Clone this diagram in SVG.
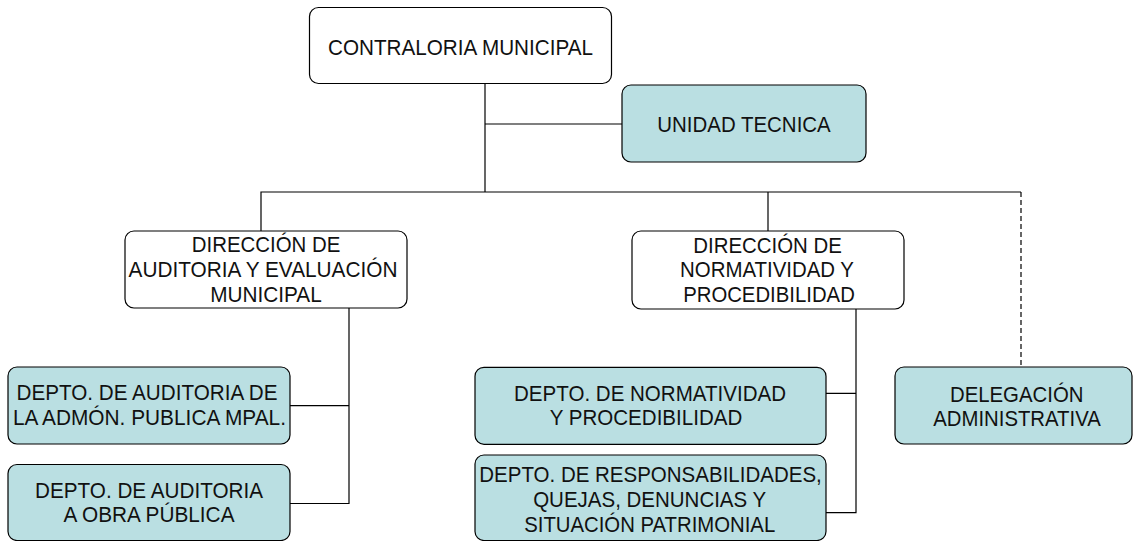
<svg xmlns="http://www.w3.org/2000/svg" width="1133" height="541" viewBox="0 0 1133 541">
<style>
.box{stroke:#000;stroke-width:1.2}
.w{fill:#fff}
.b{fill:#BADFE2}
text{font-family:"Liberation Sans",Arial,sans-serif;font-size:22px;fill:#111;text-anchor:middle}
.c{stroke:#000;stroke-width:1.2;fill:none}
.d{stroke:#000;stroke-width:1.2;fill:none;stroke-dasharray:5 3}
</style>
<rect width="1133" height="541" fill="#fff"/>
<g id="connectors">
<path class="c" d="M485,83 V192"/>
<path class="c" d="M485,124 H622"/>
<path class="c" d="M261,231 V192 H1021"/>
<path class="c" d="M768,192 V231"/>
<path class="d" d="M1021,192 V367"/>
<path class="c" d="M349,308 V503.5 H290 M290,405.7 H349"/>
<path class="c" d="M856,309 V512.7 H826 M826,393.3 H856"/>
</g>
<g id="contraloria">
<rect class="box w" x="309.5" y="7.5" width="302" height="76" rx="9"/>
<text x="460.5" y="55" textLength="265" lengthAdjust="spacingAndGlyphs">CONTRALORIA MUNICIPAL</text>
</g>
<g id="unidad-tecnica">
<rect class="box b" x="622" y="85" width="244" height="77" rx="9"/>
<text x="744" y="131.7" textLength="173.5" lengthAdjust="spacingAndGlyphs">UNIDAD TECNICA</text>
</g>
<g id="dir-auditoria">
<rect class="box w" x="125" y="231" width="282" height="77" rx="9"/>
<text x="266" y="251.7" textLength="148.5" lengthAdjust="spacingAndGlyphs">DIRECCIÓN DE</text>
<text x="263" y="276.7" textLength="269" lengthAdjust="spacingAndGlyphs">AUDITORIA Y EVALUACIÓN</text>
<text x="266" y="301.7" textLength="111.6" lengthAdjust="spacingAndGlyphs">MUNICIPAL</text>
</g>
<g id="dir-normatividad">
<rect class="box w" x="632" y="231" width="272" height="78" rx="9"/>
<text x="767.5" y="252.7" textLength="148.5" lengthAdjust="spacingAndGlyphs">DIRECCIÓN DE</text>
<text x="767" y="277.3" textLength="174" lengthAdjust="spacingAndGlyphs">NORMATIVIDAD Y</text>
<text x="769" y="301.7" textLength="171.7" lengthAdjust="spacingAndGlyphs">PROCEDIBILIDAD</text>
</g>
<g id="depto-auditoria-admon">
<rect class="box b" x="8" y="367" width="282" height="77" rx="9"/>
<text x="147" y="400" textLength="261" lengthAdjust="spacingAndGlyphs">DEPTO. DE AUDITORIA DE</text>
<text x="149.5" y="425" textLength="273" lengthAdjust="spacingAndGlyphs">LA ADMÓN. PUBLICA MPAL.</text>
</g>
<g id="depto-auditoria-obra">
<rect class="box b" x="8" y="464.5" width="282" height="76" rx="9"/>
<text x="149" y="498.3" textLength="228" lengthAdjust="spacingAndGlyphs">DEPTO. DE AUDITORIA</text>
<text x="149" y="522.3" textLength="171" lengthAdjust="spacingAndGlyphs">A OBRA PÚBLICA</text>
</g>
<g id="depto-normatividad">
<rect class="box b" x="475" y="367.3" width="351" height="77" rx="9"/>
<text x="650" y="400.7" textLength="272" lengthAdjust="spacingAndGlyphs">DEPTO. DE NORMATIVIDAD</text>
<text x="646" y="425" textLength="192.5" lengthAdjust="spacingAndGlyphs">Y PROCEDIBILIDAD</text>
</g>
<g id="depto-responsabilidades">
<rect class="box b" x="475" y="455" width="351" height="85.5" rx="9"/>
<text x="650.5" y="481.7" textLength="342.5" lengthAdjust="spacingAndGlyphs">DEPTO. DE RESPONSABILIDADES,</text>
<text x="649.7" y="506.7" textLength="233" lengthAdjust="spacingAndGlyphs">QUEJAS, DENUNCIAS Y</text>
<text x="649.7" y="531.7" textLength="251" lengthAdjust="spacingAndGlyphs">SITUACIÓN PATRIMONIAL</text>
</g>
<g id="delegacion">
<rect class="box b" x="895" y="367" width="237" height="77" rx="9"/>
<text x="1016.7" y="401.7" textLength="133.5" lengthAdjust="spacingAndGlyphs">DELEGACIÓN</text>
<text x="1017" y="425.7" textLength="167.5" lengthAdjust="spacingAndGlyphs">ADMINISTRATIVA</text>
</g>
</svg>
